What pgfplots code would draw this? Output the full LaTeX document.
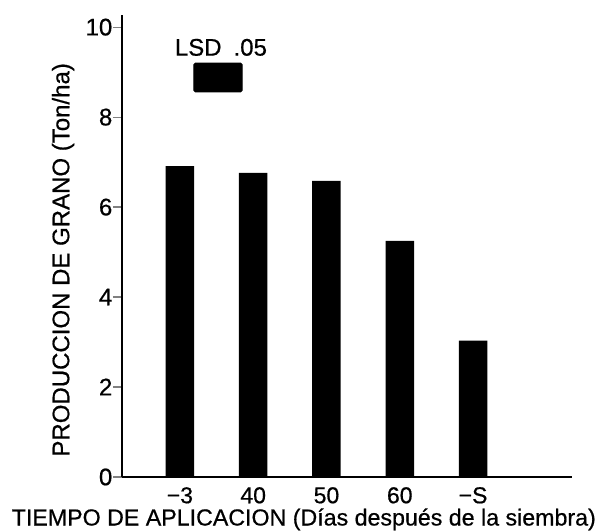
\documentclass[border=0pt]{standalone}
\usepackage{pgfplots}
\pgfplotsset{compat=1.18}
\usepackage{fontspec}
\setmainfont[FakeBold=0.6]{Liberation Sans}
\begin{document}
\begin{tikzpicture}
\useasboundingbox (-122pt,-55pt) rectangle (488pt,477pt);
\begin{axis}[
  at={(0,0)}, anchor=south west,
  scale only axis, width=450pt, height=462pt,
  xmin=-0.79, xmax=5.35, ymin=0, ymax=10.27,
  axis x line*=bottom, axis y line*=left,
  axis line style={line width=1.5pt},
  xtick={0,1,2,3,4}, xticklabels={−3,40,50,60,−S},
  xtick style={draw=none},
  ytick={0,2,4,6,8,10},
  ytick pos=left, tick align=outside,
  major tick length=9pt,
  ytick style={line width=1.2pt},
  /pgf/number format/assume math mode=true,
  tick label style={font=\fontsize{24}{28}\selectfont},
  yticklabel style={inner sep=0pt, xshift=-0.5pt},
  xticklabel style={inner sep=0pt, yshift=-1pt, font=\fontsize{23}{28}\selectfont},
  label style={font=\fontsize{23.2}{28}\selectfont},
  xlabel={TIEMPO DE APLICACION (Días después de la siembra)},
  xlabel style={at={(axis description cs:0.404,0)}, anchor=base, yshift=-48.5pt},
  ylabel={PRODUCCION DE GRANO (Ton/ha)},
  ylabel style={at={(axis description cs:-0.131,0.47)}, anchor=center, rotate=0, font=\fontsize{24}{28}\selectfont},
  clip=false,
]
\addplot[ybar, bar width=28.5pt, fill=black, draw=none] coordinates {
  (0,6.91) (1,6.76) (2,6.58) (3,5.25) (4,3.03)
};
\addplot[fill=black, draw=black, line width=0.8pt, rounded corners=1.5pt] coordinates {
  (0.19,8.56) (0.85,8.56) (0.85,9.20) (0.19,9.20)
} -- cycle;
\node[font=\fontsize{24}{28}\selectfont, inner sep=0pt] at (axis cs:0.56,9.55) {LSD\hspace{0.5em}.05};
\end{axis}
\end{tikzpicture}
\end{document}
